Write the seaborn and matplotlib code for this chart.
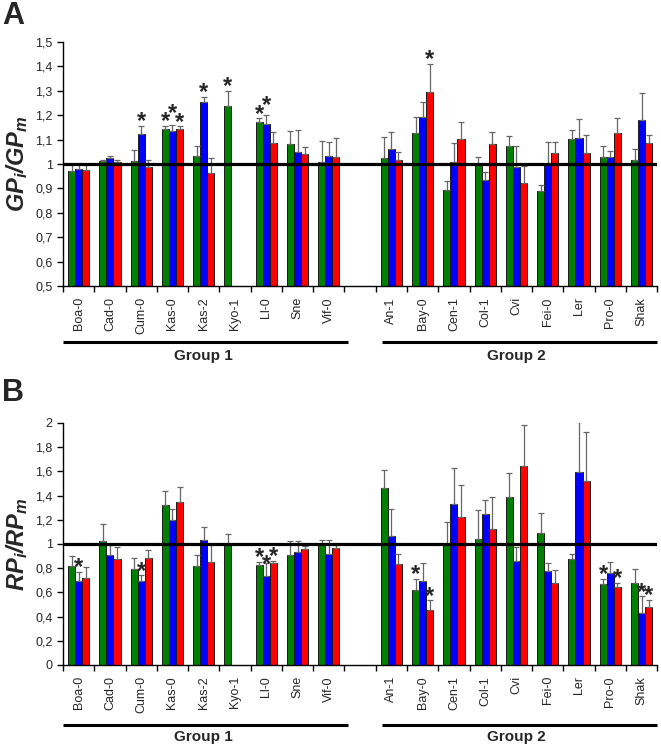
import numpy as np
import pandas as pd
import seaborn as sns
import matplotlib.pyplot as plt
import matplotlib.transforms as mtransforms

# accessions (blank slot separates the two groups)
accessions = ["Boa-0", "Cad-0", "Cum-0", "Kas-0", "Kas-2", "Kyo-1", "Ll-0", "Sne", "Vif-0", "",
              "An-1", "Bay-0", "Cen-1", "Col-1", "Cvi", "Fei-0", "Ler", "Pro-0", "Shak"]
plants = [a for a in accessions if a != ""]
series = ["S1", "S2", "S3"]
colors = ["#008000", "#0000ff", "#ff0000"]
group_names = ["Group 1", "Group 2"]

nan = np.nan

# panel A : GPi/GPm
gp_s1 = [0.973, 1.011, 1.014, 1.145, 1.034, 1.236, 1.173, 1.084, 1.008,
         1.025, 1.127, 0.895, 1.000, 1.075, 0.888, 1.104, 1.029, 1.018]
gp_s1_err = [0.028, 0.006, 0.045, 0.013, 0.041, 0.063, 0.015, 0.053, 0.087,
             0.086, 0.066, 0.035, 0.030, 0.039, 0.028, 0.037, 0.044, 0.045]
gp_s2 = [0.979, 1.025, 1.125, 1.137, 1.255, nan, 1.166, 1.051, 1.032,
         1.060, 1.193, 1.008, 0.936, 0.986, 1.000, 1.108, 1.029, 1.181]
gp_s2_err = [0.020, 0.010, 0.031, 0.025, 0.020, nan, 0.034, 0.089, 0.057,
             0.070, 0.063, 0.078, 0.031, 0.087, 0.089, 0.077, 0.024, 0.111]
gp_s3 = [0.977, 1.008, 0.988, 1.144, 0.963, nan, 1.086, 1.041, 1.029,
         1.015, 1.296, 1.101, 1.082, 0.922, 1.044, 1.044, 1.127, 1.086]
gp_s3_err = [0.022, 0.007, 0.030, 0.011, 0.062, nan, 0.044, 0.029, 0.076,
             0.033, 0.115, 0.072, 0.051, 0.070, 0.048, 0.075, 0.062, 0.033]
gp_stars = [("Cum-0", "S2"), ("Kas-0", "S1"), ("Kas-0", "S2"), ("Kas-0", "S3"),
            ("Kas-2", "S2"), ("Kyo-1", "S1"), ("Ll-0", "S1"), ("Ll-0", "S2"), ("Bay-0", "S3")]

# panel B : RPi/RPm
rp_s1 = [0.822, 1.026, 0.797, 1.319, 0.822, 0.999, 0.828, 0.905, 0.990,
         1.459, 0.618, 0.999, 1.040, 1.388, 1.090, 0.872, 0.668, 0.679]
rp_s1_err = [0.077, 0.138, 0.091, 0.118, 0.091, 0.082, 0.027, 0.118, 0.039,
             0.152, 0.096, 0.182, 0.243, 0.198, 0.165, 0.044, 0.046, 0.113]
rp_s2 = [0.692, 0.910, 0.692, 1.200, 1.037, nan, 0.739, 0.932, 0.921,
         1.070, 0.692, 1.332, 1.250, 0.858, 0.778, 1.597, 0.764, 0.430]
rp_s2_err = [0.075, 0.083, 0.050, 0.091, 0.102, nan, 0.102, 0.089, 0.108,
             0.221, 0.149, 0.293, 0.113, 0.113, 0.063, 0.414, 0.088, 0.136]
rp_s3 = [0.723, 0.877, 0.883, 1.343, 0.847, nan, 0.841, 0.957, 0.966,
         0.836, 0.452, 1.219, 1.126, 1.647, 0.676, 1.517, 0.643, 0.483]
rp_s3_err = [0.083, 0.094, 0.066, 0.130, 0.152, nan, 0.022, 0.030, 0.025,
             0.080, 0.083, 0.265, 0.262, 0.336, 0.113, 0.409, 0.038, 0.055]
rp_stars = [("Boa-0", "S2"), ("Cum-0", "S2"), ("Ll-0", "S1"), ("Ll-0", "S2"), ("Ll-0", "S3"),
            ("Bay-0", "S1"), ("Bay-0", "S3"), ("Pro-0", "S1"), ("Pro-0", "S3"),
            ("Shak", "S2"), ("Shak", "S3")]

# middle stars of a cluster sit a little higher/lower (points)
star_shift = {("A", "Kas-0", "S2"): 5, ("A", "Ll-0", "S2"): 4, ("B", "Ll-0", "S2"): -4}


def make_df(vals, errs):
    rows = []
    for s, v, e in zip(series, vals, errs):
        for p, vv, ee in zip(plants, v, e):
            if not np.isnan(vv):
                rows.append({"accession": p, "series": s, "value": vv, "err": ee})
    return pd.DataFrame(rows)


sns.set_style("ticks")
plt.rcParams["font.family"] = ["Liberation Sans", "DejaVu Sans"]
plt.rcParams["mathtext.default"] = "regular"

fig = plt.figure(figsize=(6.61, 7.46), dpi=100)
axA = fig.add_axes([0.0953, 0.6166, 0.899, 0.327])
axB = fig.add_axes([0.0953, 0.1086, 0.899, 0.3244])


def draw_panel(ax, df, stars, ylim, yticks, ylabel, letter, letter_y, line_y, text_y):
    sns.barplot(data=df, x="accession", y="value", hue="series", order=accessions,
                hue_order=series, palette=colors, saturation=1, width=0.68,
                errorbar=None, edgecolor="#1a1a1a", linewidth=0.7, legend=False, ax=ax)
    errs = {(r.accession, r.series): r.err for r in df.itertuples()}
    tops = {}
    for s, cont in zip(series, ax.containers):
        for bar in cont:
            xc = bar.get_x() + bar.get_width() / 2
            h = bar.get_height()
            name = accessions[int(round(xc))]
            e = errs[(name, s)]
            ax.errorbar(xc, h, yerr=[[0], [e]], fmt="none", ecolor="#666666",
                        elinewidth=0.9, capsize=2.5, capthick=0.9, zorder=3)
            tops[(name, s)] = (xc, h + e)
    for name, s in stars:
        xc, yt = tops[(name, s)]
        dy = 3 + star_shift.get((letter, name, s), 0)
        ax.annotate("*", (xc, yt), xytext=(0, dy), textcoords="offset points",
                    ha="center", va="center", fontsize=17, fontweight="bold")
    ax.axhline(1, color="black", lw=2.3, zorder=4)

    ax.set_ylim(*ylim)
    ax.set_yticks(yticks)
    ax.set_yticklabels([f"{t:g}".replace(".", ",") for t in yticks])
    ax.set_xlim(-0.5, len(accessions) - 0.5)
    ax.set_xticks(np.arange(-0.5, len(accessions), 1))
    ax.set_xticklabels([])
    ax.set_xticks(range(len(accessions)), labels=accessions, minor=True,
                  rotation=90, fontsize=9)
    ax.tick_params(axis="x", which="minor", length=0, pad=8)
    ax.tick_params(axis="both", which="major", direction="out", length=4,
                   width=1, labelsize=9, color="black")
    ax.set_xlabel("")
    ax.set_ylabel("")
    sns.despine(ax=ax)
    for sp in ["left", "bottom"]:
        ax.spines[sp].set_linewidth(1)
        ax.spines[sp].set_color("black")

    box = ax.get_position()
    fig.text(0.026, (box.y0 + box.y1) / 2, ylabel, rotation=90, ha="center",
             va="center", fontsize=17, fontweight="bold", fontstyle="italic")
    fig.text(0.003, letter_y, letter, ha="left", va="top", fontsize=22,
             fontweight="bold")

    trans = mtransforms.blended_transform_factory(ax.transData, fig.transFigure)
    for (x0, x1), xc, name in zip([(-0.5, 8.6), (9.7, 18.5)], [4.0, 14.0], group_names):
        ax.plot([x0, x1], [line_y, line_y], transform=trans, color="black",
                lw=2.2, clip_on=False, solid_capstyle="butt")
        ax.text(xc, text_y, name, transform=trans, ha="center", va="center",
                fontsize=11, fontweight="bold")


gp_df = make_df([gp_s1, gp_s2, gp_s3], [gp_s1_err, gp_s2_err, gp_s3_err])
rp_df = make_df([rp_s1, rp_s2, rp_s3], [rp_s1_err, rp_s2_err, rp_s3_err])

draw_panel(axA, gp_df, gp_stars, (0.5, 1.5), np.round(np.arange(0.5, 1.51, 0.1), 1),
           "$GP_i/GP_m$", "A", 0.999, 1 - 342 / 746, 1 - 356 / 746)
draw_panel(axB, rp_df, rp_stars, (0, 2), np.round(np.arange(0, 2.01, 0.2), 1),
           "$RP_i/RP_m$", "B", 1 - 378 / 746, 1 - 725 / 746, 1 - 737 / 746)

fig.savefig("out.png", dpi=100)
